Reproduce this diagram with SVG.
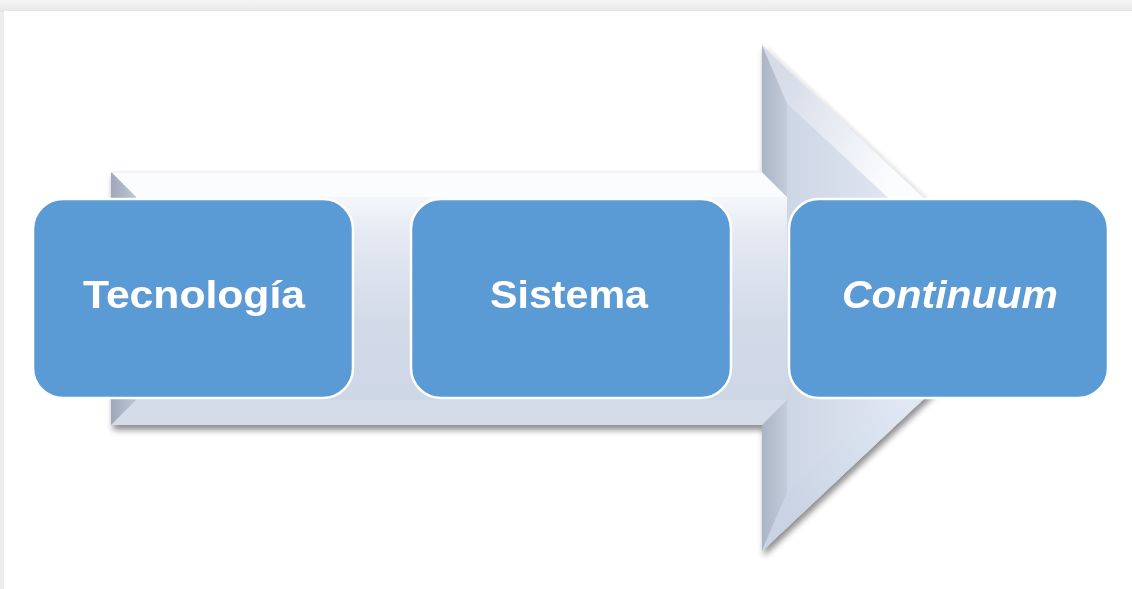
<svg xmlns="http://www.w3.org/2000/svg" width="1132" height="589" viewBox="0 0 1132 589">
  <defs>
    <style>
      .box { fill: #5b9bd5; stroke: #ffffff; stroke-width: 2.5; }
      .label { font-family: "Liberation Sans", Arial, sans-serif; font-size: 39px; font-weight: bold; fill: #ffffff; text-anchor: middle; }
    </style>
    <linearGradient id="pageTop" x1="0" y1="0" x2="0" y2="1">
      <stop offset="0" stop-color="#f4f4f4"/>
      <stop offset="0.7" stop-color="#ececec"/>
      <stop offset="1" stop-color="#e2e2e2"/>
    </linearGradient>
    <linearGradient id="shaftFace" gradientUnits="userSpaceOnUse" x1="0" y1="172" x2="0" y2="425">
      <stop offset="0" stop-color="#ffffff"/>
      <stop offset="0.25" stop-color="#e4e9f2"/>
      <stop offset="0.6" stop-color="#d2dae8"/>
      <stop offset="1" stop-color="#cdd6e6"/>
    </linearGradient>
    <linearGradient id="headFace" gradientUnits="userSpaceOnUse" x1="787" y1="298" x2="990" y2="298">
      <stop offset="0" stop-color="#cdd6e5"/>
      <stop offset="0.6" stop-color="#e3e9f3"/>
      <stop offset="1" stop-color="#f3f6fb"/>
    </linearGradient>
    <linearGradient id="headTopDiag" gradientUnits="userSpaceOnUse" x1="770" y1="100" x2="900" y2="160">
      <stop offset="0" stop-color="#d5dce8"/>
      <stop offset="1" stop-color="#fbfcfe"/>
    </linearGradient>
    <linearGradient id="headBotDiag" gradientUnits="userSpaceOnUse" x1="780" y1="500" x2="910" y2="420">
      <stop offset="0" stop-color="#c9d3e3"/>
      <stop offset="1" stop-color="#dfe7f3"/>
    </linearGradient>
    <linearGradient id="sideFace" gradientUnits="userSpaceOnUse" x1="762" y1="0" x2="787" y2="0">
      <stop offset="0" stop-color="#aab4c4"/>
      <stop offset="1" stop-color="#c3ccda"/>
    </linearGradient>
    <linearGradient id="leftFace" gradientUnits="userSpaceOnUse" x1="111" y1="0" x2="136" y2="0">
      <stop offset="0" stop-color="#9ea8b8"/>
      <stop offset="1" stop-color="#bcc6d5"/>
    </linearGradient>
    <filter id="arrowShadow" x="-5%" y="-5%" width="115%" height="120%">
      <feGaussianBlur in="SourceAlpha" stdDeviation="3"/>
      <feOffset dx="2" dy="5" result="b"/>
      <feComponentTransfer><feFuncA type="linear" slope="0.45"/></feComponentTransfer>
      <feMerge><feMergeNode/><feMergeNode in="SourceGraphic"/></feMerge>
    </filter>
    <filter id="textGlow" x="-10%" y="-30%" width="120%" height="160%">
      <feGaussianBlur in="SourceAlpha" stdDeviation="1.2"/>
      <feComponentTransfer><feFuncA type="linear" slope="0.35"/></feComponentTransfer>
      <feFlood flood-color="#3c6fa3"/>
      <feComposite operator="in" in2="SourceAlpha"/>
      <feMerge><feMergeNode/><feMergeNode in="SourceGraphic"/></feMerge>
    </filter>
  </defs>

  <!-- page frame -->
  <rect x="0" y="0" width="1132" height="589" fill="#ededed"/>
  <rect x="0" y="0" width="1132" height="12" fill="url(#pageTop)"/>
  <rect x="4" y="11" width="1128" height="578" fill="#ffffff"/>

  <!-- bevelled process arrow -->
  <g id="arrow" filter="url(#arrowShadow)">
    <polygon points="111,172 762,172 762,45 1031,298 762,551 762,425 111,425" fill="#cdd6e6"/>
    <!-- main face -->
    <polygon points="136,197 787,197 787,103 995,298 787,493 787,400 136,400" fill="url(#shaftFace)"/>
    <polygon points="787,103 995,298 787,493" fill="url(#headFace)"/>
    <!-- bevel faces -->
    <polygon points="111,172 762,172 787,197 136,197" fill="#fbfcfe"/>
    <polygon points="111,425 762,425 787,400 136,400" fill="#d4dcea"/>
    <polygon points="111,172 136,197 136,400 111,425" fill="url(#leftFace)"/>
    <polygon points="762,45 762,172 787,197 787,103" fill="url(#sideFace)"/>
    <polygon points="762,551 762,425 787,400 787,493" fill="url(#sideFace)"/>
    <polygon points="762,45 1031,298 995,298 787,103" fill="url(#headTopDiag)"/>
    <polygon points="762,551 1031,298 995,298 787,493" fill="url(#headBotDiag)"/>
    <line x1="762" y1="45" x2="1031" y2="298" stroke="#e6e9ee" stroke-width="1.5"/>
    <line x1="111" y1="172" x2="762" y2="172" stroke="#eef0f4" stroke-width="1.5"/>
  </g>

  <g id="node-tecnologia">
    <rect class="box" x="33" y="199" width="320" height="199" rx="30" ry="30"/>
    <text class="label" x="194" y="308" textLength="222" lengthAdjust="spacingAndGlyphs" filter="url(#textGlow)">Tecnología</text>
  </g>

  <g id="node-sistema">
    <rect class="box" x="411" y="199" width="320" height="199" rx="30" ry="30"/>
    <text class="label" x="569" y="308" textLength="158" lengthAdjust="spacingAndGlyphs" filter="url(#textGlow)">Sistema</text>
  </g>

  <g id="node-continuum">
    <rect class="box" x="789" y="199" width="319" height="199" rx="30" ry="30"/>
    <text class="label" x="950" y="308" font-style="italic" textLength="216" lengthAdjust="spacingAndGlyphs" filter="url(#textGlow)">Continuum</text>
  </g>
</svg>
